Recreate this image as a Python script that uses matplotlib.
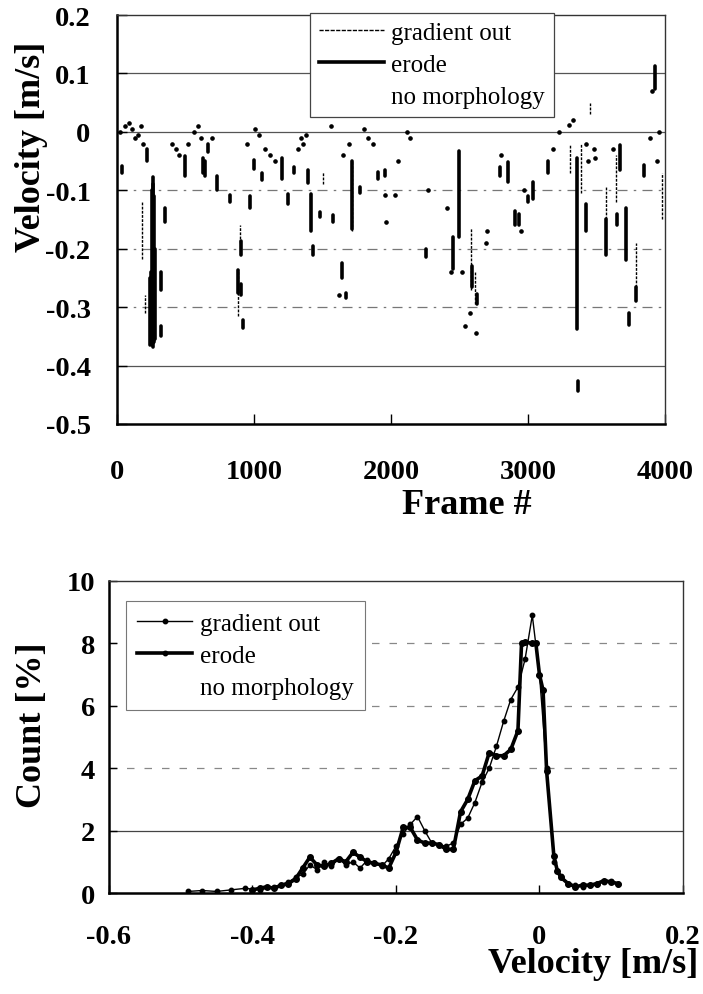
import matplotlib
matplotlib.use("Agg")
import matplotlib.pyplot as plt
from matplotlib.lines import Line2D

# ---------------- data: top panel (velocity vs frame) ----------------
erode_frame = [36, 219, 250, 255, 260, 265, 270, 275, 241, 318, 321, 350, 496, 628, 645, 665,
               730, 825, 905, 883, 908, 917, 971, 1000, 1060, 1205, 1250, 1290, 1395, 1417,
               1430, 1485, 1580, 1640, 1675, 1714, 1773, 1905, 1960, 2255, 2455, 2500, 2590,
               2625, 2795, 2855, 2905, 2935, 3000, 3036, 3146, 3360, 3365, 3420, 3570,
               3650, 3670, 3715, 3790, 3740, 3850, 3930]
erode_lo = [-0.070, -0.050, -0.360, -0.365, -0.362, -0.368, -0.360, -0.355, -0.365, -0.270,
            -0.350, -0.155, -0.075, -0.070, -0.075, -0.035, -0.100, -0.120, -0.210, -0.275,
            -0.280, -0.335, -0.130, -0.063, -0.083, -0.080, -0.123, -0.070, -0.088, -0.170,
            -0.210, -0.145, -0.155, -0.250, -0.285, -0.167, -0.105, -0.080, -0.075, -0.215,
            -0.235, -0.180, -0.265, -0.295, -0.075, -0.085, -0.160, -0.160, -0.120, -0.115,
            -0.070, -0.337, -0.443, -0.170, -0.210, -0.160, -0.065, -0.220, -0.290, -0.330,
            -0.076, 0.073]
erode_hi = [-0.058, -0.030, -0.240, -0.100, -0.090, -0.077, -0.110, -0.200, -0.250, -0.240,
            -0.333, -0.130, -0.041, -0.045, -0.050, -0.020, -0.075, -0.108, -0.187, -0.237,
            -0.260, -0.322, -0.110, -0.048, -0.070, -0.045, -0.107, -0.060, -0.065, -0.107,
            -0.195, -0.138, -0.143, -0.225, -0.275, -0.050, -0.095, -0.068, -0.065, -0.200,
            -0.180, -0.033, -0.230, -0.277, -0.060, -0.052, -0.135, -0.140, -0.110, -0.085,
            -0.050, -0.045, -0.426, -0.123, -0.150, -0.140, -0.022, -0.130, -0.265, -0.310,
            -0.057, 0.113]

grad_frame = [182, 205, 880, 900, 1505, 1714, 2585, 2610, 3310, 3385, 3453, 3570, 3640, 3790, 3975]
grad_lo = [-0.217, -0.310, -0.315, -0.190, -0.090, -0.170, -0.270, -0.295, -0.070, -0.105,
           0.030, -0.150, -0.120, -0.265, -0.150]
grad_hi = [-0.120, -0.280, -0.235, -0.160, -0.068, -0.050, -0.165, -0.240, -0.020, -0.020,
           0.050, -0.095, -0.040, -0.190, -0.070]

dot_frame = [20, 60, 90, 110, 130, 150, 175, 190, 400, 430, 450, 520, 560, 590, 610, 690,
             950, 1010, 1040, 1080, 1120, 1150, 1320, 1340, 1360, 1380, 1560, 1650, 1690,
             1800, 1830, 1870, 2050, 2120, 2140, 2270, 2410, 2440, 2520, 2540, 2620, 2580,
             1960, 2030, 1965, 1620, 2800, 2950, 3180, 3230, 3300, 3330, 3420, 3440, 3480,
             3490, 3620, 3890, 3940, 3960, 3905, 2700, 2690, 2970]
dot_v = [0.000, 0.010, 0.015, 0.005, -0.010, -0.005, 0.010, -0.020, -0.020, -0.030, -0.040,
         -0.020, 0.000, 0.010, -0.010, -0.010, -0.020, 0.005, -0.005, -0.030, -0.040, -0.050,
         -0.030, -0.010, -0.020, -0.005, 0.010, -0.040, -0.020, 0.005, -0.010, -0.020, -0.050,
         0.000, -0.010, -0.100, -0.130, -0.240, -0.240, -0.333, -0.345, -0.310, -0.108,
         -0.108, -0.155, -0.280, -0.040, -0.170, -0.030, 0.000, 0.012, 0.020, -0.020, -0.050,
         -0.030, -0.045, -0.030, -0.010, -0.050, 0.000, 0.070, -0.170, -0.190, -0.100]

top_yticks = [0.2, 0.1, 0.0, -0.1, -0.2, -0.3, -0.4, -0.5]
top_ylabels = ['0.2', '0.1', '0', '-0.1', '-0.2', '-0.3', '-0.4', '-0.5']
top_xticks = [0, 1000, 2000, 3000, 4000]
top_xlabels = ['0', '1000', '2000', '3000', '4000']

# ---------------- data: bottom panel (histogram) ----------------
grad_hv = [-0.49, -0.47, -0.45, -0.43, -0.41, -0.39, -0.37, -0.35, -0.34, -0.33, -0.32,
           -0.31, -0.30, -0.29, -0.28, -0.27, -0.26, -0.25, -0.24, -0.23, -0.22, -0.21,
           -0.20, -0.19, -0.18, -0.17, -0.16, -0.15, -0.14, -0.13, -0.12, -0.11, -0.10,
           -0.09, -0.08, -0.07, -0.06, -0.05, -0.04, -0.03, -0.02, -0.01, 0.00, 0.01, 0.02,
           0.03, 0.04, 0.05, 0.06, 0.07, 0.08, 0.09, 0.10, 0.11]
grad_count = [0.05, 0.08, 0.05, 0.10, 0.15, 0.10, 0.20, 0.35, 0.50, 0.60, 0.90, 0.75, 1.00,
              0.85, 1.10, 0.90, 1.00, 0.80, 1.05, 0.95, 0.85, 1.10, 1.50, 1.90, 2.20, 2.45,
              2.00, 1.60, 1.55, 1.50, 1.60, 2.20, 2.40, 2.90, 3.55, 4.00, 4.70, 5.50, 6.20,
              6.60, 7.50, 8.90, 7.00, 4.00, 1.00, 0.55, 0.30, 0.25, 0.20, 0.25, 0.30, 0.35,
              0.40, 0.30]

erode_hv = [-0.40, -0.39, -0.38, -0.37, -0.36, -0.35, -0.34, -0.33, -0.32, -0.31, -0.30,
            -0.29, -0.28, -0.27, -0.26, -0.25, -0.24, -0.23, -0.22, -0.21, -0.20, -0.19,
            -0.18, -0.17, -0.16, -0.15, -0.14, -0.13, -0.12, -0.11, -0.10, -0.09, -0.08,
            -0.07, -0.06, -0.05, -0.04, -0.03, -0.025, -0.02, -0.01, -0.005, 0.0, 0.005,
            0.01, 0.02, 0.025, 0.03, 0.04, 0.05, 0.06, 0.07, 0.08, 0.09, 0.10, 0.11]
erode_count = [0.10, 0.15, 0.20, 0.15, 0.25, 0.30, 0.45, 0.80, 1.15, 0.90, 0.85, 0.95, 1.10,
               1.00, 1.30, 1.15, 1.00, 0.95, 0.90, 0.80, 1.30, 2.10, 2.10, 1.70, 1.60, 1.60,
               1.55, 1.40, 1.40, 2.60, 3.00, 3.60, 3.75, 4.50, 4.40, 4.40, 4.60, 5.20, 8.00,
               8.05, 8.00, 8.00, 7.00, 6.50, 3.90, 1.20, 0.70, 0.50, 0.30, 0.20, 0.25, 0.25,
               0.30, 0.40, 0.35, 0.30]

bot_xticks = [-0.6, -0.4, -0.2, 0.0, 0.2]
bot_xlabels = ['-0.6', '-0.4', '-0.2', '0', '0.2']
bot_yticks = [0, 2, 4, 6, 8, 10]
bot_ylabels = ['0', '2', '4', '6', '8', '10']

series_names = ['gradient out', 'erode', 'no morphology']

# ---------------- figure ----------------
SERIF = ['Liberation Serif', 'DejaVu Serif']
fig = plt.figure(figsize=(7.03, 9.95), dpi=100)
fig.patch.set_facecolor('white')

tick_font = dict(family=SERIF, weight='bold', size=20.5)
label_font = dict(family=SERIF, weight='bold', size=26)


def style_axes(ax):
    for sp in ax.spines.values():
        sp.set_color('black')
    ax.spines['left'].set_linewidth(1.8)
    ax.spines['bottom'].set_linewidth(1.8)
    ax.spines['top'].set_linewidth(1.0)
    ax.spines['right'].set_linewidth(1.0)
    ax.spines['top'].set_color('#333333')
    ax.spines['right'].set_color('#333333')
    ax.set_axisbelow(True)


# top panel
ax1 = fig.add_axes([0.1664, 0.5729, 0.7795, 0.411])
ax1.set_xlim(0, 4000)
ax1.set_ylim(-0.5, 0.2)
for yv in [0.1, 0.0, -0.1, -0.2, -0.3, -0.4]:
    if yv in (0.1, 0.0, -0.4):
        ax1.axhline(yv, color='#555555', lw=0.9, zorder=0)
    else:
        ax1.axhline(yv, color='#777777', lw=0.9, ls=(0, (8, 5, 2, 5)), zorder=0)
ax1.vlines(grad_frame, grad_lo, grad_hi, color='black', lw=1.0,
           linestyles=(0, (2, 1)), zorder=2)
ax1.vlines(erode_frame, erode_lo, erode_hi, color='black', lw=2.6, capstyle='round', zorder=3)
ax1.plot(dot_frame, dot_v, 'o', ms=2.3, color='black', zorder=3)
ax1.set_yticks(top_yticks)
ax1.set_yticklabels(top_ylabels, fontdict=tick_font)
ax1.set_xticks(top_xticks)
ax1.set_xticklabels(top_xlabels, fontdict=tick_font)
ax1.tick_params(axis='y', direction='in', length=7, pad=19, width=1)
ax1.tick_params(axis='x', direction='in', length=7, pad=25, width=1)
style_axes(ax1)

h1 = [Line2D([], [], color='black', lw=1.0, ls=(0, (3, 1))),
      Line2D([], [], color='black', lw=2.6),
      Line2D([], [], color='none', lw=1.0)]
leg1 = ax1.legend(h1, series_names, loc='upper left', bbox_to_anchor=(0.352, 1.005),
                  prop=dict(family=SERIF, size=18), frameon=True, fancybox=False,
                  edgecolor='#444444', framealpha=1, handlelength=2.6, handletextpad=0.3,
                  labelspacing=0.38, borderpad=0.35, borderaxespad=0)
leg1.get_frame().set_linewidth(0.9)

fig.text(32 / 703, 1 - 147 / 995, 'Velocity [m/s]', rotation=90, ha='center', va='center',
         **label_font)
fig.text(467 / 703, 1 - 505 / 995, 'Frame #', ha='center', va='center', **label_font)

# bottom panel
ax2 = fig.add_axes([0.155, 0.1015, 0.8165, 0.3136])
ax2.set_xlim(-0.6, 0.2)
ax2.set_ylim(0, 10)
for yv in [2, 4, 6, 8]:
    if yv == 2:
        ax2.axhline(yv, color='#444444', lw=0.9, zorder=0)
    else:
        ax2.axhline(yv, color='#888888', lw=0.9, ls=(0, (6, 8)), zorder=0)
ax2.plot(grad_hv, grad_count, '-', lw=1.0, color='black', marker='o', ms=3.2, zorder=2)
ax2.plot(erode_hv, erode_count, '-', lw=2.6, color='black', marker='o', ms=4, zorder=3)
ax2.set_xticks(bot_xticks)
ax2.set_xticklabels(bot_xlabels, fontdict=tick_font)
ax2.set_yticks(bot_yticks)
ax2.set_yticklabels(bot_ylabels, fontdict=tick_font)
ax2.tick_params(axis='y', direction='in', length=6, pad=10, width=1)
ax2.tick_params(axis='x', direction='in', length=6, pad=22, width=1)
style_axes(ax2)

h2 = [Line2D([], [], color='black', lw=1.0, marker='o', ms=3.2),
      Line2D([], [], color='black', lw=2.6, marker='o', ms=3.2),
      Line2D([], [], color='none', lw=1.0)]
leg2 = ax2.legend(h2, series_names, loc='upper left', bbox_to_anchor=(0.03, 0.936),
                  prop=dict(family=SERIF, size=18), frameon=True, fancybox=False,
                  edgecolor='#777777', framealpha=1, handlelength=2.2, handletextpad=0.3,
                  labelspacing=0.38, borderpad=0.45, borderaxespad=0)
leg2.get_frame().set_linewidth(0.8)

fig.text(32 / 703, 1 - 725 / 995, 'Count [%]', rotation=90, ha='center', va='center',
         **label_font)
fig.text(593 / 703, 1 - 965 / 995, 'Velocity [m/s]', ha='center', va='center', **label_font)

fig.savefig('out.png', dpi=100, facecolor='white')
